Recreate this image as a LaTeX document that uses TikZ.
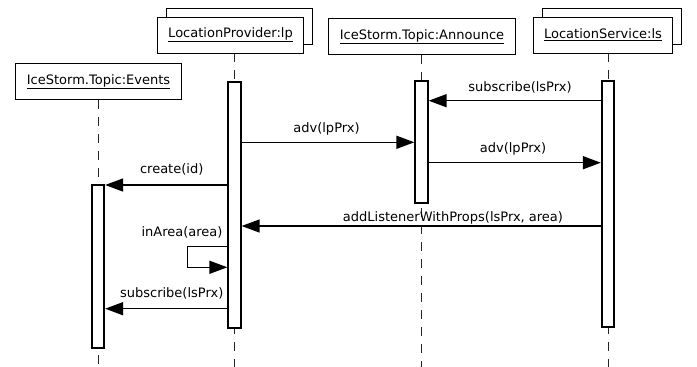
\documentclass[tikz,border=0pt]{standalone}
\usepackage{fontspec}
\setmainfont{DejaVu Sans}
\usetikzlibrary{arrows.meta, positioning, backgrounds}

\begin{document}
\begin{tikzpicture}[x=1pt, y=-1pt, font=\fontsize{13}{15}\selectfont,
  obj/.style={draw, fill=white, line width=0.8pt, minimum height=36pt, inner sep=0pt},
  bar/.style={draw, fill=white, line width=1.8pt, minimum width=12.5pt, inner sep=0pt},
  lifeline/.style={draw=black!85, line width=0.8pt, dash pattern=on 9pt off 8pt},
  msg/.style={line width=1.5pt, -{Triangle[length=18pt, width=13pt]}},
  lbl/.style={inner sep=0pt}]
\useasboundingbox (0,0) rectangle (697,367);

% objects
\node[obj, minimum width=166pt] (events) at (98.5,81.5) {\underline{IceStorm.Topic:Events}};
\node[obj, minimum width=146pt] (lpshadow) at (239.5,26.5) {};
\node[obj, minimum width=146pt] (lp) at (230.5,35) {\underline{LocationProvider:lp}};
\node[obj, minimum width=187pt] (announce) at (422,36.5) {\underline{IceStorm.Topic:Announce}};
\node[obj, minimum width=139pt] (lsshadow) at (612,26.5) {};
\node[obj, minimum width=139pt] (ls) at (603,35) {\underline{LocationService:ls}};

% activations
\node[bar, minimum height=163pt] (evbar) at (98,266.5) {};
\node[bar, minimum height=246pt] (lpbar) at (234.5,205) {};
\node[bar, minimum height=122pt] (annbar) at (421.5,142) {};
\node[bar, minimum height=246pt] (lsbar) at (608,204) {};

% lifelines
\begin{scope}[on background layer]
\draw[lifeline] (evbar |- events.south) -- (evbar |- 0,367);
\draw[lifeline] (lpbar |- lp.south) -- (lpbar |- 0,367);
\draw[lifeline] (annbar |- announce.south) -- (annbar |- 0,367);
\draw[lifeline] (lsbar |- ls.south) -- (lsbar |- 0,367);
\end{scope}

% messages
\draw[msg] (lsbar.west |- 0,100.7) -- (annbar.east |- 0,100.7);
\node[lbl] (sublbl) at (520,87) {subscribe(lsPrx)};
\draw[msg] (lpbar.east |- 0,142.3) -- (annbar.west |- 0,142.3);
\node[lbl] (adv1lbl) at (326.5,128.5) {adv(lpPrx)};
\draw[msg] (annbar.east |- 0,162.7) -- (lsbar.west |- 0,162.7);
\node[lbl] (adv2lbl) at (513,148.5) {adv(lpPrx)};
\draw[msg] (lpbar.west |- 0,185) -- (evbar.east |- 0,185);
\node[lbl] (createlbl) at (171.7,169.5) {create(id)};
\draw[msg] (lsbar.west |- 0,226) -- (lpbar.east |- 0,226);
\node[lbl] (addlbl) at (453,217.5) {addListenerWithProps(lsPrx, area)};
\coordinate (loop) at (187.5,257);
\draw[msg] (lpbar.west |- 0,246.7) -- (loop |- 0,246.7) -- (loop |- 0,267.3) -- (lpbar.west |- 0,267.3);
\node[lbl] (inarealbl) at (182,232.7) {inArea(area)};
\draw[msg] (lpbar.west |- 0,308.7) -- (evbar.east |- 0,308.7);
\node[lbl] (sub2lbl) at (171.7,293.5) {subscribe(lsPrx)};
\end{tikzpicture}
\end{document}
